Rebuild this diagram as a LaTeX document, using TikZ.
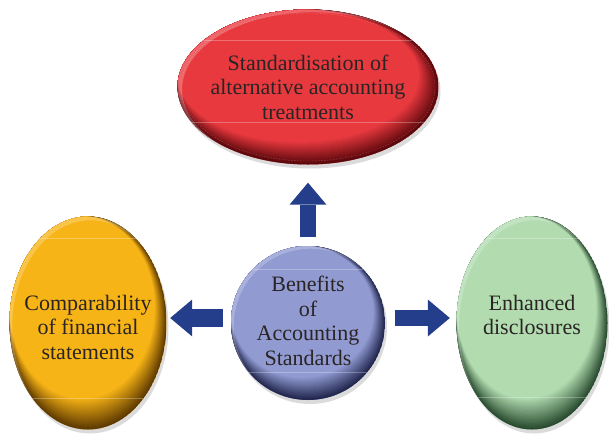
\documentclass[tikz,border=0pt]{standalone}
\usepackage{fontspec}
\setmainfont{Liberation Serif}
\usetikzlibrary{shapes.geometric,arrows.meta,shadows,calc}

\definecolor{txtc}{HTML}{2A2424}
\definecolor{arrowblue}{HTML}{243E8C}
\definecolor{redB}{HTML}{E8393F}
\definecolor{redD}{HTML}{5A070B}
\definecolor{orB}{HTML}{F7B417}
\definecolor{orD}{HTML}{5E3A00}
\definecolor{grB}{HTML}{B2DCB0}
\definecolor{grD}{HTML}{284A2E}
\definecolor{blB}{HTML}{919BD2}
\definecolor{blD}{HTML}{20254C}

% #1 node, #2 x radius, #3 y radius, #4 base colour, #5 rim colour
\newcommand\ballfill[5]{%
  \begin{scope}
    \clip (#1.center) ellipse [x radius=#2pt, y radius=#3pt];
    \foreach \i in {0,...,24}{%
      \pgfmathsetmacro\tt{\i/24}%
      \pgfmathsetmacro\pp{100*\tt}%
      \pgfmathsetmacro\dx{-0.075*\tt*#2}%
      \pgfmathsetmacro\dy{0.145*\tt*#3}%
      \pgfmathsetmacro\rx{(1-0.075*\tt)*#2}%
      \pgfmathsetmacro\ry{(1-0.145*\tt)*#3}%
      \fill[#4!\pp!#5] ([xshift=\dx pt, yshift=\dy pt]#1.center) ellipse [x radius=\rx pt, y radius=\ry pt];
    }
    \pgfmathsetmacro\hx{0.035*#2}%
    \pgfmathsetmacro\hy{-0.035*#3}%
    \fill[white, opacity=0.22, even odd rule] (#1.center) ellipse [x radius=#2pt, y radius=#3pt]
      ([xshift=\hx pt, yshift=\hy pt]#1.center) ellipse [x radius=#2pt, y radius=#3pt];
  \end{scope}}

\begin{document}
\begin{tikzpicture}[x=1pt,y=-1pt,
  blob/.style={ellipse, inner sep=0pt,
    drop shadow={shadow xshift=2pt, shadow yshift=-4pt, opacity=0.14, fill=black}},
  lbl/.style={text=txtc, align=center, inner sep=0pt, font=\fontsize{22}{24.5}\selectfont},
  bigarrow/.style={draw=arrowblue, -{Triangle[width=37pt,length=22pt,line width=0pt]}},
  gloss/.style={white, opacity=0.28, line width=0.6pt}]

\useasboundingbox (0,0) rectangle (609,434);

% shapes
\node[blob, fill=redB!60!redD, minimum width=261pt, minimum height=155pt] (std) at (308,87) {};
\node[blob, fill=orB!60!orD, minimum width=157pt, minimum height=213pt] (cmp) at (88,323) {};
\node[blob, fill=grB!60!grD, minimum width=151pt, minimum height=213pt] (enh) at (532,323) {};
\node[blob, circle, fill=blB!60!blD, minimum size=154pt] (ben) at (308,323) {};

\ballfill{std}{130.5}{77.5}{redB}{redD}
\ballfill{cmp}{78.5}{106.5}{orB}{orD}
\ballfill{enh}{75.5}{106.5}{grB}{grD}
\ballfill{ben}{77}{77}{blB}{blD}

% gloss lines
\begin{scope}
  \clip (std.center) ellipse [x radius=130.5pt, y radius=77.5pt];
  \draw[gloss] (170,122) -- (450,122);
  \draw[gloss] (170,40) -- (450,40);
  \draw[white, opacity=0.25, line width=0.4pt, dash pattern=on 1.5pt off 1.5pt] (std.center) ellipse [x radius=127pt, y radius=74pt];
\end{scope}
\begin{scope}
  \clip (cmp.center) ellipse [x radius=78.5pt, y radius=106.5pt];
  \draw[gloss] (0,238) -- (180,238);
  \draw[gloss] (0,398) -- (180,398);
\end{scope}
\begin{scope}
  \clip (enh.center) ellipse [x radius=75.5pt, y radius=106.5pt];
  \draw[gloss] (440,238) -- (609,238);
  \draw[gloss] (440,397) -- (609,397);
\end{scope}
\begin{scope}
  \clip (ben.center) circle [radius=77pt];
  \draw[gloss] (220,269) -- (400,269);
  \draw[gloss] (220,372) -- (400,372);
\end{scope}

% arrows
\draw[bigarrow, line width=16pt, shorten <=9pt, shorten >=18pt] (ben.north) -- (std.south);
\draw[bigarrow, line width=18pt, shorten <=8pt, shorten >=3.5pt, transform canvas={yshift=5pt}] (ben.west) -- (cmp.east);
\draw[bigarrow, line width=16pt, shorten <=10pt, shorten >=6.5pt, transform canvas={yshift=5pt}] (ben.east) -- (enh.west);

% texts
\node[lbl] (stdT) at (std.center) {Standardisation of\\alternative accounting\\treatments};
\node[lbl] (cmpT) at ([yshift=-4pt]cmp.center) {Comparability\\of financial\\statements};
\node[lbl] (enhT) at ([yshift=8pt]enh.center) {Enhanced\\disclosures};
\node[lbl] (benT) at ([yshift=2pt]ben.center) {Benefits\\of\\Accounting\\Standards};

\end{tikzpicture}
\end{document}
